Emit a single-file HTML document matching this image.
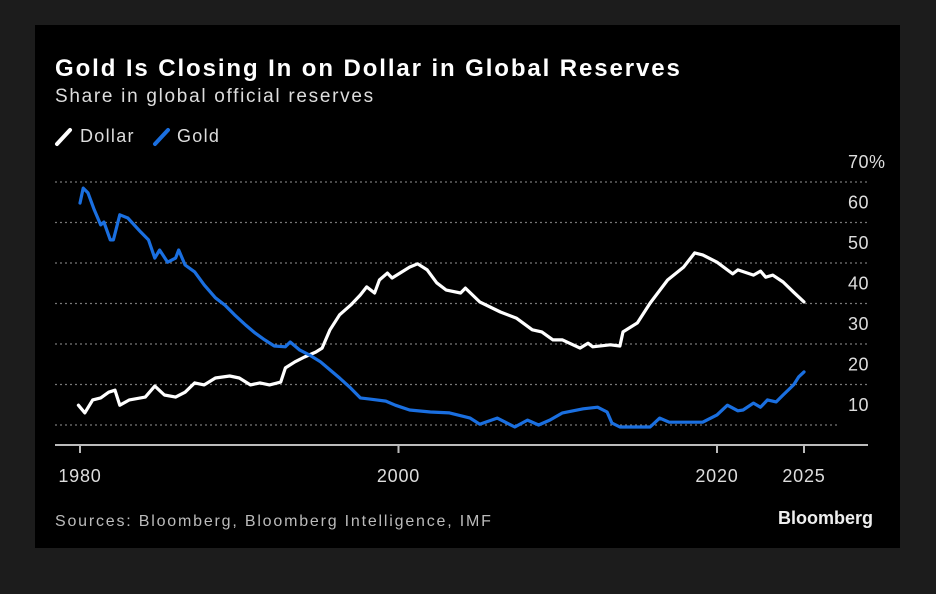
<!DOCTYPE html>
<html><head><meta charset="utf-8"><style>
html,body{margin:0;padding:0;background:#1c1c1c;width:936px;height:594px;overflow:hidden;font-family:"Liberation Sans",sans-serif}
#panel{position:absolute;left:35px;top:25px;width:865px;height:523px;background:#000}
.t{position:absolute;color:#fff;white-space:nowrap}
</style></head><body>
<div id="panel"></div>
<div class="t" style="left:55px;top:55px;font-size:24px;font-weight:bold;letter-spacing:1.9px">Gold Is Closing In on Dollar in Global Reserves</div>
<div class="t" style="left:55px;top:86px;font-size:19px;color:#ddd;letter-spacing:1.7px">Share in global official reserves</div>
<svg width="936" height="594" style="position:absolute;left:0;top:0" id="chart">
<g>
<line x1="57" y1="144" x2="70" y2="130" stroke="#fff" stroke-width="4" stroke-linecap="round"/>
<text x="80" y="142" fill="#ddd" font-size="18" letter-spacing="1.3" font-family="Liberation Sans">Dollar</text>
<line x1="153" y1="144" x2="166" y2="130" stroke="#1a6fe0" stroke-width="4" stroke-linecap="round" transform="translate(2,0)"/>
<text x="177" y="142" fill="#ddd" font-size="18" letter-spacing="1.3" font-family="Liberation Sans">Gold</text>
</g>
<g id="grid"></g><g id="axes"></g><g id="series"></g>
<text x="55" y="526" fill="#bbb" font-size="16" letter-spacing="1.8" font-family="Liberation Sans">Sources: Bloomberg, Bloomberg Intelligence, IMF</text>
<text x="873" y="524" fill="#eee" font-size="18" font-weight="bold" text-anchor="end" font-family="Liberation Sans">Bloomberg</text>
</svg>
<script>
const yTicks=[10,20,30,40,50,60,70];
const yTickLabels=["10","20","30","40","50","60","70%"];
const xTicks=[1980,2000,2020,2025];
const xTickLabels=["1980","2000","2020","2025"];
const goldYears=[1980.0,1980.2,1980.5,1980.9,1981.3,1981.5,1981.9,1982.1,1982.5,1983.0,1983.8,1984.3,1984.7,1985.0,1985.5,1986.0,1986.2,1986.6,1987.2,1987.8,1988.5,1989.1,1989.7,1990.4,1991.0,1991.6,1992.2,1992.9,1993.2,1993.8,1994.4,1995.1,1995.7,1996.3,1997.0,1997.6,1998.2,1999.2,1999.8,2000.7,2002.0,2003.2,2004.5,2005.1,2006.2,2007.3,2008.1,2008.8,2009.5,2010.3,2011.6,2012.5,2013.1,2013.4,2013.9,2015.8,2016.4,2017.0,2018.5,2019.1,2020.0,2020.6,2021.2,2021.5,2022.1,2022.5,2022.9,2023.4,2023.8,2024.4,2024.7,2025.0];
const goldValues=[64.8,68.5,67.3,63.1,59.4,60.1,55.7,55.7,61.9,61.1,57.7,55.7,51.2,53.2,50.2,51.2,53.2,49.5,47.8,44.6,41.4,39.6,37.2,34.7,32.7,31.0,29.5,29.3,30.5,28.5,27.3,25.6,23.6,21.6,19.1,16.7,16.4,15.9,14.9,13.7,13.2,13.0,11.7,10.2,11.7,9.5,11.2,10.0,11.2,13.0,14.0,14.4,13.2,10.5,9.5,9.5,11.7,10.7,10.7,10.7,12.5,14.9,13.5,13.7,15.4,14.4,16.2,15.7,17.4,19.9,21.9,23.1];
const dollarYears=[1979.9,1980.3,1980.8,1981.3,1981.8,1982.2,1982.5,1983.1,1984.1,1984.7,1985.3,1986.0,1986.6,1987.2,1987.8,1988.5,1989.4,1990.0,1990.7,1991.3,1991.9,1992.6,1992.9,1993.5,1994.1,1994.8,1995.2,1995.7,1996.3,1997.0,1997.6,1998.0,1998.5,1998.8,1999.3,1999.6,2000.7,2001.2,2001.8,2002.4,2003.0,2003.9,2004.2,2005.1,2006.4,2007.4,2008.4,2009.0,2009.7,2010.3,2011.4,2011.9,2012.2,2013.3,2013.9,2014.1,2015.0,2015.8,2016.9,2017.9,2018.6,2019.1,2020.0,2020.9,2021.2,2022.1,2022.5,2022.8,2023.2,2023.8,2024.4,2025.0];
const dollarValues=[14.9,13.0,16.2,16.7,18.1,18.6,14.9,16.2,16.9,19.6,17.4,16.9,18.1,20.4,19.9,21.6,22.1,21.6,19.9,20.4,19.9,20.6,24.1,25.6,26.8,28.0,29.0,33.5,37.2,39.6,42.1,44.1,42.6,45.8,47.5,46.3,49.0,49.8,48.3,45.1,43.3,42.6,43.8,40.4,37.9,36.4,33.5,33.0,31.0,31.0,29.0,30.2,29.3,29.8,29.5,33.0,35.2,40.1,45.8,49.0,52.5,52.0,50.2,47.3,48.3,47.0,48.0,46.5,47.0,45.3,42.8,40.4];
const NS='http://www.w3.org/2000/svg';
function x(yr){return yr<=2020?80+(yr-1980)*15.925:717+(yr-2020)*17.4;}
function y(v){return 425-(v-10)*4.05;}
function mk(tag,attrs,parent){const e=document.createElementNS(NS,tag);for(const k in attrs)e.setAttribute(k,attrs[k]);parent.appendChild(e);return e;}
const grid=document.getElementById('grid'),axes=document.getElementById('axes'),series=document.getElementById('series');
yTicks.forEach((v,i)=>{
  const l=mk('line',{x1:55,x2:v===10?840:867,y1:y(v),y2:y(v),stroke:'#777','stroke-width':1.3,'stroke-dasharray':'2 3'},grid);
  
  
  const t=mk('text',{x:848,y:y(v)-14,fill:'#ddd','font-size':18,'letter-spacing':0.5,'font-family':'Liberation Sans'},grid);
  t.textContent=yTickLabels[i];
  
  
});
const base=mk('line',{x1:55,x2:868,y1:445,y2:445,stroke:'#bbb','stroke-width':2},axes);


xTicks.forEach((yr,i)=>{
  const tk=mk('line',{x1:x(yr),x2:x(yr),y1:445,y2:453,stroke:'#bbb','stroke-width':2},axes);
  
  
  const t=mk('text',{x:x(yr),y:482,fill:'#ddd','font-size':18,'letter-spacing':0.8,'text-anchor':'middle','font-family':'Liberation Sans'},axes);
  t.textContent=xTickLabels[i];
  
  
});
function line(ys,vs,color,name){
  const d=ys.map((yr,i)=>(i?'L':'M')+x(yr).toFixed(1)+','+y(vs[i]).toFixed(1)).join('');
  const p=mk('path',{d:d,fill:'none',stroke:color,'stroke-width':3.2,'stroke-linejoin':'round','stroke-linecap':'round'},series);
  
  
}
line(dollarYears,dollarValues,'#ffffff','dollar-line');
line(goldYears,goldValues,'#1a6fe0','gold-line');
</script>
</body></html>
